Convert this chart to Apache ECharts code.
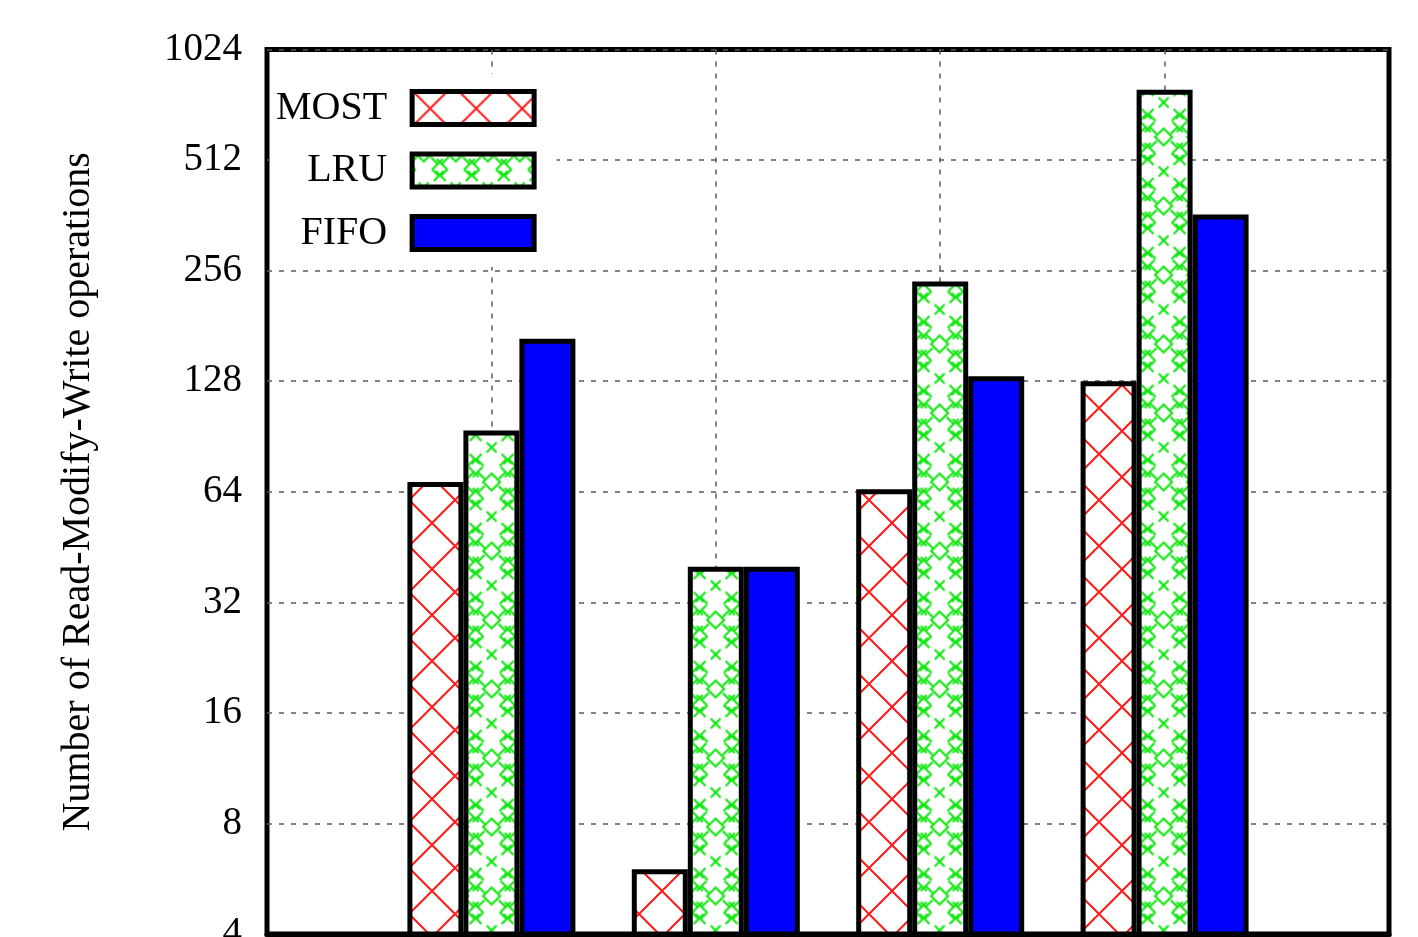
<!DOCTYPE html>
<html><head><meta charset="utf-8">
<script src="https://cdn.jsdelivr.net/npm/echarts@6/dist/echarts.min.js"></script>
<style>html,body{margin:0;padding:0;background:#fff}#c{width:1418px;height:937px}</style>
</head><body><div id="c"></div>
<script>
// ---- data ----
const categories = ['', '1', '2', '3', '4', ''];
const seriesNames = ['MOST', 'LRU', 'FIFO'];
const mostValues = [68, 6, 65, 128];
const lruValues = [94, 40, 239, 796];
const fifoValues = [167, 40, 132, 364];
const yTickLabels = [4, 8, 16, 32, 64, 128, 256, 512, 1024];
const yTitle = 'Number of Read-Modify-Write operations';

// ---- fill patterns ----
function makeMostTile() {
  const S = 46, c = document.createElement('canvas');
  c.width = S; c.height = S;
  const g = c.getContext('2d');
  g.fillStyle = '#fff'; g.fillRect(0, 0, S, S);
  g.strokeStyle = '#ff1a1a'; g.lineWidth = 2;
  g.beginPath();
  g.moveTo(-2, -2); g.lineTo(S + 2, S + 2);
  g.moveTo(S + 2, -2); g.lineTo(-2, S + 2);
  g.stroke();
  return c;
}
function makeLruTile() {
  const W = 32, H = 69, c = document.createElement('canvas');
  c.width = W; c.height = H;
  const g = c.getContext('2d');
  g.fillStyle = '#fff'; g.fillRect(0, 0, W, H);
  g.strokeStyle = '#14e614'; g.lineWidth = 2.2;
  const cx = 16, cy = 34.5;
  function each(fn) {
    for (const ox of [-W, 0, W]) for (const oy of [-H, 0, H]) fn(ox, oy);
  }
  each((ox, oy) => {
    g.beginPath();
    g.moveTo(cx + ox, cy - 8.5 + oy); g.lineTo(cx + 8.5 + ox, cy + oy);
    g.lineTo(cx + ox, cy + 8.5 + oy); g.lineTo(cx - 8.5 + ox, cy + oy); g.closePath();
    g.moveTo(cx - 5 + ox, -5 + oy); g.lineTo(cx + 5 + ox, 5 + oy);
    g.moveTo(cx + 5 + ox, -5 + oy); g.lineTo(cx - 5 + ox, 5 + oy);
    g.stroke();
  });
  const tPts = [[-15, -23], [15, -23], [-14, -10], [14, -10], [-14, 11], [14, 11], [-15, 23], [15, 23]];
  each((ox, oy) => {
    g.beginPath();
    for (const [dx, dy] of tPts) {
      const px = cx + dx + ox, py = cy + dy + oy;
      const sx = -Math.sign(dx), sy = -Math.sign(dy);
      const k = 7;
      g.moveTo(px, py); g.lineTo(px + sx * k, py + sy * k);
      g.moveTo(px - sy * 5, py + sx * 5); g.lineTo(px + sy * 5, py - sx * 5);
    }
    g.stroke();
  });
  return c;
}
const mostPattern = { image: makeMostTile(), repeat: 'repeat', x: 18, y: 17 };
const lruPattern = { image: makeLruTile(), repeat: 'repeat', x: 27.6, y: 33.5 };

const FONT = 'Liberation Serif';
const gridLine = { color: '#5a5a5a', width: 1.5, type: [5, 7] };

function pad(arr) { return [null].concat(arr, [null]); }

const chart = echarts.init(document.getElementById('c'), null, { renderer: 'canvas' });
const option = {
  animation: false,
  backgroundColor: '#fff',
  textStyle: { fontFamily: FONT },
  grid: {
    left: 267, right: 29, top: 49.5, bottom: 3,
    outerBoundsMode: 'none', containLabel: false,
    show: true, borderColor: '#000', borderWidth: 5, backgroundColor: 'transparent'
  },
  legend: {
    orient: 'vertical', left: 270, top: 74, align: 'right',
    icon: 'rect', itemWidth: 122, itemHeight: 33, itemGap: 22.5,
    padding: [14, 20, 14, 6], backgroundColor: '#fff',
    textStyle: { fontSize: 40, color: '#000', fontFamily: FONT, padding: [0, 20, 0, 0], lineHeight: 33 },
    itemStyle: { borderWidth: 5, borderColor: '#000' },
    data: seriesNames
  },
  xAxis: [
    {
      type: 'category', data: categories, boundaryGap: false,
      axisLine: { show: false }, axisTick: { show: false }, axisLabel: { show: false },
      splitLine: { show: true, interval: (i) => i > 0 && i < categories.length - 1, lineStyle: gridLine }
    },
    {
      type: 'category', data: categories, boundaryGap: false, position: 'bottom', z: 10,
      axisLine: { show: true, lineStyle: { color: '#000', width: 5 } },
      axisTick: { show: false }, axisLabel: { show: false }, splitLine: { show: false }
    }
  ],
  yAxis: {
    type: 'log', logBase: 2,
    min: yTickLabels[0], max: yTickLabels[yTickLabels.length - 1],
    splitNumber: yTickLabels.length - 1,
    axisLine: { show: false },
    axisTick: { inside: true, length: 25, lineStyle: { color: '#000', width: 4 } },
    axisLabel: { margin: 25, color: '#000', fontSize: 39, fontFamily: FONT,
      formatter: (v) => String(Math.round(v)) },
    splitLine: { show: true, lineStyle: gridLine },
    name: yTitle, nameLocation: 'middle', nameGap: 169,
    nameTextStyle: { fontSize: 40, color: '#000', fontFamily: FONT }
  },
  series: [
    { name: 'MOST', type: 'bar', data: pad(mostValues), barWidth: 56, barGap: '0%',
      itemStyle: { color: mostPattern, borderColor: '#000', borderWidth: 5 } },
    { name: 'LRU', type: 'bar', data: pad(lruValues), barWidth: 56, barGap: '0%',
      itemStyle: { color: lruPattern, borderColor: '#000', borderWidth: 5 } },
    { name: 'FIFO', type: 'bar', data: pad(fifoValues), barWidth: 56, barGap: '0%',
      itemStyle: { color: '#0000ff', borderColor: '#000', borderWidth: 5 } }
  ]
};
chart.setOption(option);
</script>
</body></html>
